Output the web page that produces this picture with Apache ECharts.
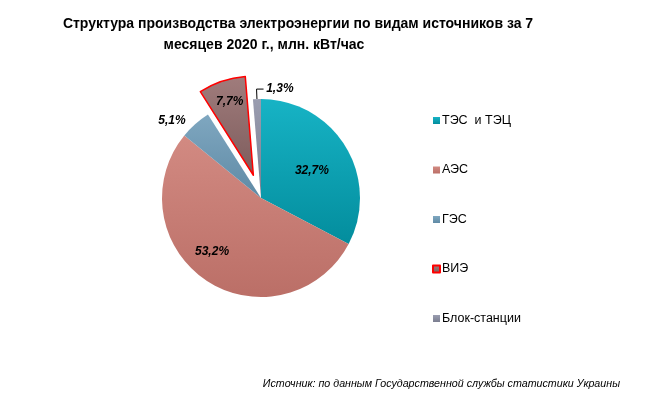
<!DOCTYPE html>
<html>
<head>
<meta charset="utf-8">
<script src="https://cdn.jsdelivr.net/npm/echarts@6/dist/echarts.min.js"></script>
<style>
  html, body { margin: 0; padding: 0; background: #fff; }
  #chart { width: 650px; height: 397px; }
</style>
</head>
<body>
<div id="chart"></div>
<script>
  // категории и доли, %
  var categories = ['ТЭС  и ТЭЦ', 'АЭС', 'ГЭС', 'ВИЭ', 'Блок-станции'];
  var shares = [32.7, 53.2, 5.1, 7.7, 1.3];
  var colorsTop = ['#17b3c5', '#d28a82', '#7fa7c0', '#a07c7c', '#9a9db0'];
  var colorsBottom = ['#038d9d', '#bb6f67', '#5f8aa5', '#7d5c5c', '#7b7e90'];

  // сдвиг подписей, чтобы повторить раскладку Excel
  var labelShift = [[6, 0], [-20, 10], [0, 0], [-7, -24], [48, 0]];

  function grad(i) {
    return new echarts.graphic.LinearGradient(0, 0, 0, 1, [
      { offset: 0, color: colorsTop[i] },
      { offset: 1, color: colorsBottom[i] }
    ]);
  }

  var seriesData = [];
  for (var i = 0; i < categories.length; i++) {
    var item = {
      name: categories[i],
      value: shares[i],
      itemStyle: { color: grad(i) }
    };
    // ГЭС и блок-станции подписаны снаружи
    if (i === 2) {
      item.label = { position: 'outside' };
      item.labelLine = { show: false, length: 4, length2: 2 };
    }
    if (i === 4) {
      item.label = { position: 'outside' };
      item.labelLine = { show: true, length: 10, length2: 6 };
    }
    // ВИЭ выдвинут и обведён красным
    if (i === 3) {
      item.selected = true;
      item.itemStyle.borderColor = '#ff0000';
      item.itemStyle.borderWidth = 1.5;
    }
    seriesData.push(item);
  }

  var chart = echarts.init(document.getElementById('chart'));
  chart.setOption({
    animation: false,
    title: [
      {
        text: 'Структура производства электроэнергии по видам источников за 7',
        left: 293, top: 12, textAlign: 'center',
        textStyle: { fontFamily: 'Liberation Sans', fontSize: 14, fontWeight: 'bold', color: '#000' }
      },
      {
        text: 'месяцев 2020 г., млн. кВт/час',
        left: 259, top: 33, textAlign: 'center',
        textStyle: { fontFamily: 'Liberation Sans', fontSize: 14, fontWeight: 'bold', color: '#000' }
      },
      {
        text: 'Источник: по данным Государственной службы статистики Украины',
        right: 25, top: 374,
        textStyle: { fontFamily: 'Liberation Sans', fontSize: 10.7, fontStyle: 'italic', fontWeight: 'normal', color: '#000' }
      }
    ],
    legend: {
      orient: 'vertical',
      left: 427, top: 109,
      icon: 'rect',
      itemWidth: 7, itemHeight: 7,
      itemGap: 36.5,
      selectedMode: false,
      textStyle: { fontFamily: 'Liberation Sans', fontSize: 12.5, color: '#000', padding: [0, 0, 0, -3] },
      data: categories
    },
    series: [{
      type: 'pie',
      center: [261, 198],
      radius: 99,
      startAngle: 90,
      clockwise: true,
      selectedMode: 'single',
      selectedOffset: 24,
      avoidLabelOverlap: false,
      label: {
        position: 'inside',
        fontFamily: 'Liberation Sans',
        fontSize: 12,
        fontWeight: 'bold',
        fontStyle: 'italic',
        color: '#000',
        formatter: function (p) { return p.value.toFixed(1).replace('.', ',') + '%'; }
      },
      labelLine: { lineStyle: { color: '#000', width: 1 } },
      labelLayout: function (p) {
        var s = labelShift[p.dataIndex];
        var res = { dx: s[0], dy: s[1] };
        // выноска блок-станций уходит вправо, к подписи
        if (p.dataIndex === 4 && p.labelLinePoints) {
          var a = p.labelLinePoints[0], b = p.labelLinePoints[1];
          res.labelLinePoints = [a, b, [b[0] + 7, b[1]]];
        }
        return res;
      },
      emphasis: { disabled: true },
      data: seriesData
    }]
  });
</script>
</body>
</html>
